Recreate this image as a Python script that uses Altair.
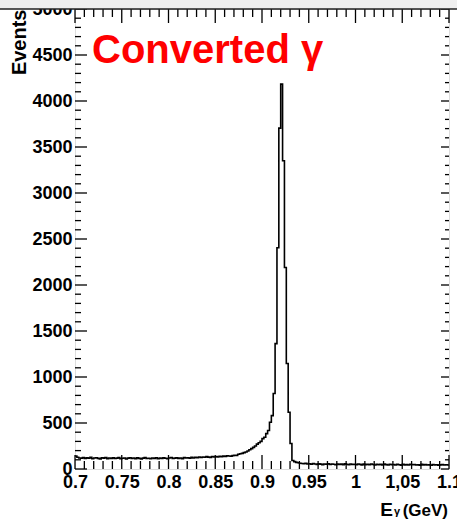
import altair as alt
import pandas as pd

# ---- data ----
bin_lo = 0.70
bin_hi = 1.10
n_bins = 200
counts = [
    142, 128, 120, 118, 124, 115, 121, 117, 126, 112, 119, 123, 116, 110, 122, 118, 125, 113, 119, 116,
    121, 114, 118, 124, 112, 117, 120, 109, 118, 122, 115, 119, 113, 121, 116, 110, 118, 124, 114, 117,
    112, 120, 116, 123, 111, 118, 115, 121, 117, 112, 119, 125, 114, 118, 122, 116, 120, 113, 124, 119,
    122, 117, 126, 120, 128, 123, 131, 125, 130, 127, 134, 129, 126, 136, 131, 135, 130, 138, 134, 140,
    137, 143, 141, 140, 145, 150, 148, 160, 165, 170, 178, 185, 195, 210, 222, 235, 250, 270, 285, 300,
    330, 345, 385, 418, 508, 580, 820, 1363, 2405, 3705, 4183, 3350, 2190, 1146, 617, 277, 92, 80, 72, 68,
    63, 60, 58, 62, 55, 57, 52, 59, 54, 50, 56, 53, 48, 55, 51, 57, 49, 54, 52, 47,
    55, 50, 53, 48, 56, 51, 46, 54, 49, 52, 47, 55, 50, 45, 53, 48, 51, 46, 54, 49,
    44, 52, 47, 50, 45, 53, 48, 43, 51, 46, 49, 44, 52, 47, 42, 50, 45, 48, 43, 51,
    46, 49, 44, 47, 42, 50, 45, 48, 43, 46, 41, 49, 44, 47, 42, 45, 48, 43, 46, 44,
]
x_major = [0.7, 0.75, 0.8, 0.85, 0.9, 0.95, 1.0, 1.05, 1.1]
x_minor = [0.71, 0.72, 0.73, 0.74, 0.76, 0.77, 0.78, 0.79, 0.81, 0.82, 0.83, 0.84,
           0.86, 0.87, 0.88, 0.89, 0.91, 0.92, 0.93, 0.94, 0.96, 0.97, 0.98, 0.99,
           1.01, 1.02, 1.03, 1.04, 1.06, 1.07, 1.08, 1.09]
y_major = [0, 500, 1000, 1500, 2000, 2500, 3000, 3500, 4000, 4500, 5000]
y_minor = [v for v in range(0, 5001, 100) if v % 500 != 0]
label_text = "Converted γ"
y_title = "Events"

# ---- layout ----
W, H = 374, 460
bw = (bin_hi - bin_lo) / n_bins
edges = [bin_lo + i * bw for i in range(n_bins)] + [bin_hi]
hist = pd.DataFrame({"x": edges, "y": counts + [counts[-1]]})

xs = alt.Scale(domain=[bin_lo, bin_hi], nice=False, zero=False)
ys = alt.Scale(domain=[0, 5000], nice=False)
FONT = "Liberation Sans"

xaxis = alt.Axis(
    values=x_major, format="~g", ticks=False, domain=False, grid=False, title=None,
    labelExpr="datum.value > 1.04 && datum.value < 1.06 ? '1,05' : datum.label",
    labelFont=FONT, labelFontSize=18, labelFontWeight="bold", labelColor="black",
    labelPadding=4, labelOverlap=False, labelFlush=False)
yaxis = alt.Axis(
    values=y_major, format="d", ticks=False, domain=False, grid=False,
    title=y_title, titleFont=FONT, titleFontSize=20, titleFontWeight="bold",
    titleColor="black", titleAngle=-90, titleAlign="right", titleBaseline="middle",
    titleX=-56, titleY=0,
    labelFont=FONT, labelFontSize=18, labelFontWeight="bold", labelColor="black",
    labelPadding=3, labelOverlap=False, labelFlush=False)

line = alt.Chart(hist).mark_line(
    interpolate="step-after", color="black", strokeWidth=1.6, clip=True
).encode(
    x=alt.X("x:Q", scale=xs, axis=xaxis),
    y=alt.Y("y:Q", scale=ys, axis=yaxis),
)

dym = pd.DataFrame({"y": y_major})
dyn = pd.DataFrame({"y": y_minor})
dxm = pd.DataFrame({"x": x_major})
dxn = pd.DataFrame({"x": x_minor})

def yt(df, x0, x1):
    return alt.Chart(df).mark_rule(color="black", strokeWidth=1.3).encode(
        y=alt.Y("y:Q", scale=ys, axis=yaxis), x=alt.value(x0), x2=alt.value(x1))

def xt(df, y0, y1):
    return alt.Chart(df).mark_rule(color="black", strokeWidth=1.3).encode(
        x=alt.X("x:Q", scale=xs, axis=xaxis), y=alt.value(y0), y2=alt.value(y1))

ticks = [
    yt(dym, 0, 12), yt(dyn, 0, 6), yt(dym, W - 8, W), yt(dyn, W - 4, W),
    xt(dxm, H - 14, H), xt(dxn, H - 8, H), xt(dxm, 0, 14), xt(dxn, 0, 8),
]

one = pd.DataFrame({"t": [label_text]})
label = alt.Chart(one).mark_text(
    font=FONT, fontSize=40, fontWeight="bold", color="#ff0000",
    align="left", baseline="alphabetic"
).encode(text="t:N", x=alt.value(17), y=alt.value(54))

def txt(s, x, y, size, align):
    return alt.Chart(pd.DataFrame({"t": [s]})).mark_text(
        font=FONT, fontSize=size, fontWeight="bold", color="black",
        align=align, baseline="alphabetic"
    ).encode(text="t:N", x=alt.value(x), y=alt.value(y))

xtitle = [
    txt("E", 318, 507, 19, "right"),
    txt("γ", 319, 506, 11, "left"),
    txt("(GeV)", 373, 507, 17, "right"),
]

band = alt.Chart(one).mark_rect(color="#efefef").encode(
    x=alt.value(-75), x2=alt.value(W + 8), y=alt.value(-9), y2=alt.value(0))
bandline = alt.Chart(one).mark_rule(color="#222222", strokeWidth=1.5).encode(
    x=alt.value(-75), x2=alt.value(W + 8), y=alt.value(0))

chart = alt.layer(line, *ticks, label, *xtitle, band, bandline).properties(
    width=W, height=H,
    padding={"left": 75, "top": 9, "right": 8, "bottom": 51},
    autosize=alt.AutoSizeParams(type="none"),
).configure_view(stroke="black", strokeWidth=1.5).configure(background="white")

chart.save("out.html", embed_options={"renderer": "svg", "actions": False})
